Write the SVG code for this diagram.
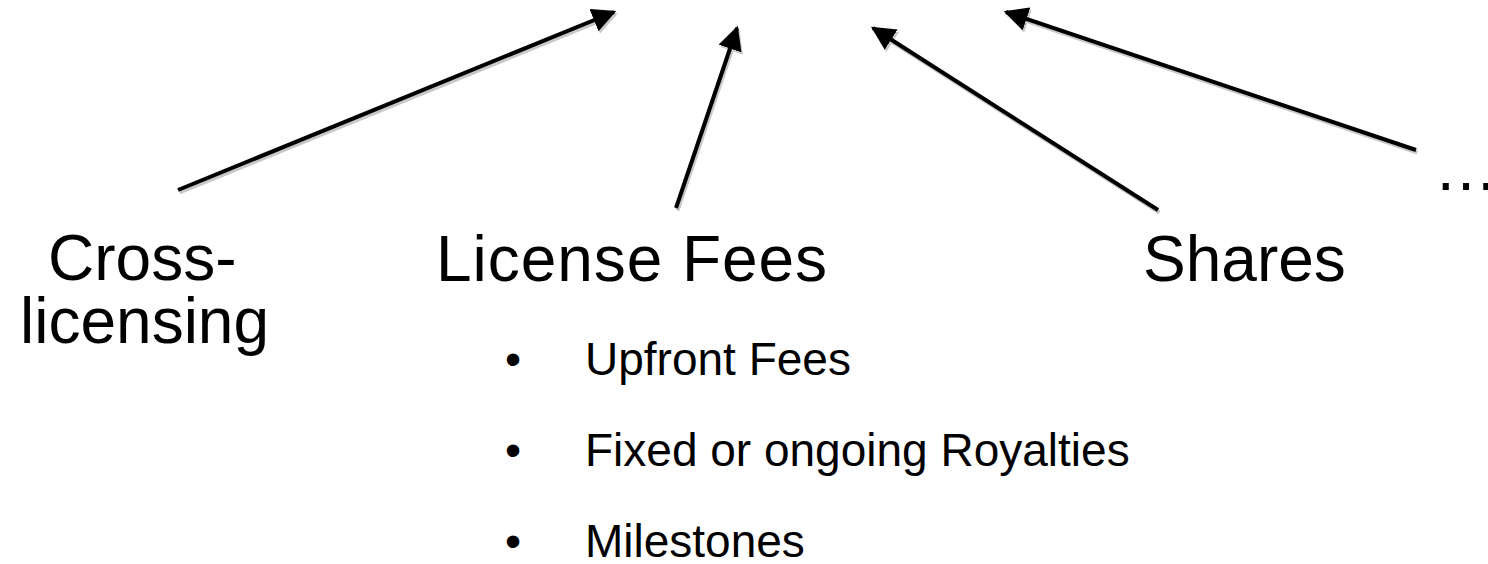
<svg xmlns="http://www.w3.org/2000/svg" width="1488" height="564" viewBox="0 0 1488 564">
  <style>
    .lbl { font-family: "Liberation Sans", Arial, sans-serif; font-size: 64px; fill: #000; }
    .item { font-family: "Liberation Sans", Arial, sans-serif; font-size: 46px; fill: #000; }
    .edge { stroke: #000; stroke-width: 4; fill: none; marker-end: url(#head); }
    .shadow { stroke: #c8c8c8; stroke-width: 4; fill: none; marker-end: url(#headShadow); }
  </style>
  <defs>
    <marker id="head" viewBox="0 0 10 10" refX="9" refY="5" markerWidth="6" markerHeight="6" markerUnits="strokeWidth" orient="auto">
      <path d="M0,0 L10,5 L0,10 z" fill="#000"/>
    </marker>
    <marker id="headShadow" viewBox="0 0 10 10" refX="9" refY="5" markerWidth="6" markerHeight="6" markerUnits="strokeWidth" orient="auto">
      <path d="M0,0 L10,5 L0,10 z" fill="#c8c8c8"/>
    </marker>
  </defs>

  <!-- connectors: soft drop shadow drawn first, then the black arrows -->
  <g id="connectors">
    <g transform="translate(1.5,2.5)">
      <line class="shadow" x1="178" y1="190" x2="614" y2="12"/>
      <line class="shadow" x1="676" y1="208" x2="737" y2="28"/>
      <line class="shadow" x1="1158" y1="210" x2="873" y2="28"/>
      <line class="shadow" x1="1416" y1="150" x2="1006" y2="12"/>
    </g>
    <line class="edge" x1="178" y1="190" x2="614" y2="12"/>
    <line class="edge" x1="676" y1="208" x2="737" y2="28"/>
    <line class="edge" x1="1158" y1="210" x2="873" y2="28"/>
    <line class="edge" x1="1416" y1="150" x2="1006" y2="12"/>
  </g>

  <g id="node-cross-licensing">
    <text class="lbl" x="48" y="280">Cross-</text>
    <text class="lbl" x="20" y="343">licensing</text>
  </g>

  <g id="node-license-fees">
    <text class="lbl" x="436" y="281" textLength="391">License Fees</text>
    <text class="item" x="505" y="375">•</text>
    <text class="item" x="585" y="375">Upfront Fees</text>
    <text class="item" x="505" y="466">•</text>
    <text class="item" x="585" y="466">Fixed or ongoing Royalties</text>
    <text class="item" x="505" y="557">•</text>
    <text class="item" x="585" y="557">Milestones</text>
  </g>

  <g id="node-shares">
    <text class="lbl" x="1143" y="281">Shares</text>
  </g>

  <g id="node-more">
    <text class="lbl" x="1434" y="190">…</text>
  </g>
</svg>
